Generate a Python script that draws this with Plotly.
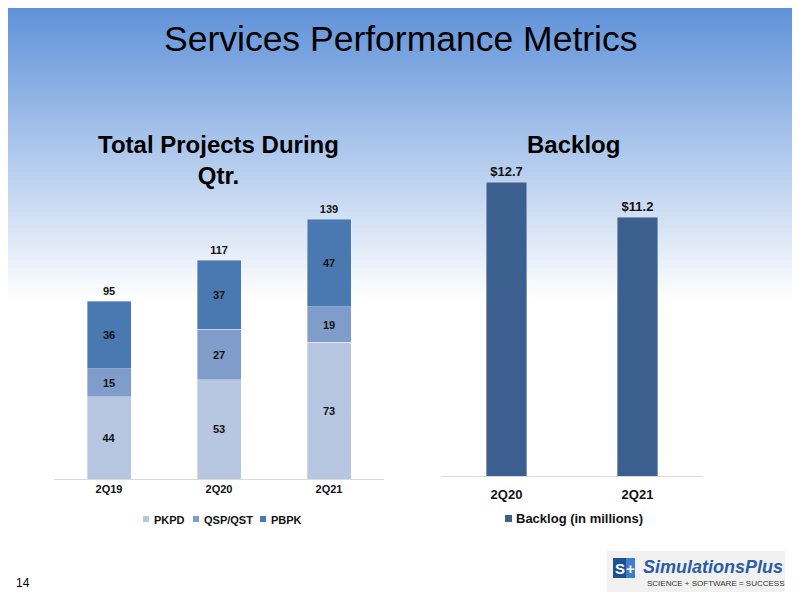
import plotly.graph_objects as go

# ---- data ----
quarters = ["2Q19", "2Q20", "2Q21"]
series_names = ["PKPD", "QSP/QST", "PBPK"]
pkpd = [44, 53, 73]
qsp_qst = [15, 27, 19]
pbpk = [36, 37, 47]
totals = [95, 117, 139]

backlog_quarters = ["2Q20", "2Q21"]
backlog_name = "Backlog (in millions)"
backlog_values = [12.7, 11.2]
backlog_labels = ["$12.7", "$11.2"]

W, H = 800, 599
# the page places the figure 8px from the top-left corner; compensate
OX, OY = 8, 8
def px(x):
    return (x - OX) / W
def py(y):
    return 1 - (y - OY) / H

C_PKPD = "#b7c6e1"
C_QSP = "#7f9cca"
C_PBPK = "#4a78b1"
C_BACK = "#3b5f8f"
TXT = "#111111"
FAM = "Liberation Sans, Arial, sans-serif"

lab_font = dict(family=FAM, size=11, color=TXT, weight="bold")

fig = go.Figure()
stack_values = [pkpd, qsp_qst, pbpk]
stack_colors = [C_PKPD, C_QSP, C_PBPK]
for name, vals, col in zip(series_names, stack_values, stack_colors):
    fig.add_trace(go.Bar(x=quarters, y=vals, name=name, marker_color=col,
                         marker_line=dict(width=0.6, color="rgba(255,255,255,0.6)"),
                         text=vals, textposition="inside", insidetextanchor="middle",
                         textfont=lab_font, width=0.4, xaxis="x", yaxis="y",
                         showlegend=False, hoverinfo="skip"))
fig.add_trace(go.Scatter(x=quarters, y=totals, mode="markers+text", text=totals,
                         marker=dict(size=4, color="rgba(0,0,0,0)"),
                         textposition="top center", textfont=lab_font,
                         showlegend=False, xaxis="x", yaxis="y", cliponaxis=False,
                         hoverinfo="skip"))

fig.add_trace(go.Bar(x=backlog_quarters, y=backlog_values, name=backlog_name,
                     marker_color=C_BACK,
                     marker_line=dict(width=0.6, color="rgba(255,255,255,0.6)"),
                     text=backlog_labels, textposition="outside",
                     textfont=dict(family=FAM, size=13, color=TXT, weight="bold"),
                     width=0.31, xaxis="x2", yaxis="y2", showlegend=False,
                     cliponaxis=False, hoverinfo="skip"))

# gradient background bands
shapes = []
top = (0x5B, 0x8F, 0xD8)
n = 75
gh = 300
for i in range(n):
    t = (i + 0.5) / n
    c = tuple(int(round(a + (255 - a) * t)) for a in top)
    shapes.append(dict(type="rect", xref="paper", yref="paper", x0=0, x1=1,
                       y0=py(gh * (i + 1) / n + 0.6), y1=min(1, py(gh * i / n)),
                       fillcolor="rgb(%d,%d,%d)" % c, line=dict(width=0), layer="below"))

annotations = []

# legend keys (left chart)
leg_sq_x = [143, 193, 260]
for name, col, sx in zip(series_names, stack_colors, leg_sq_x):
    shapes.append(dict(type="rect", xref="paper", yref="paper", x0=px(sx), x1=px(sx + 6),
                       y0=py(522), y1=py(516), fillcolor=col, line=dict(width=0)))
    annotations.append(dict(text=name, x=px(sx + 9), y=py(519.5), xref="paper", yref="paper",
                            showarrow=False, xanchor="left", yanchor="middle",
                            font=dict(family=FAM, size=11, color=TXT, weight="bold")))
# legend key (right chart)
shapes.append(dict(type="rect", xref="paper", yref="paper", x0=px(505), x1=px(512),
                   y0=py(522), y1=py(515), fillcolor=C_BACK, line=dict(width=0)))
annotations.append(dict(text=backlog_name, x=px(514), y=py(518.5), xref="paper", yref="paper",
                        showarrow=False, xanchor="left", yanchor="middle",
                        font=dict(family=FAM, size=13, color=TXT, weight="bold")))

# logo elements
shapes.append(dict(type="rect", xref="paper", yref="paper", x0=px(607), x1=px(785),
                   y0=py(592), y1=py(551), fillcolor="#f1f1f1", line=dict(width=0)))
shapes.append(dict(type="rect", xref="paper", yref="paper", x0=px(613), x1=px(626),
                   y0=py(578), y1=py(558), fillcolor="#1f4f93", line=dict(width=0)))
shapes.append(dict(type="rect", xref="paper", yref="paper", x0=px(626), x1=px(635),
                   y0=py(578), y1=py(558), fillcolor="#3f7fc8", line=dict(width=0)))

annotations += [
    dict(text="Services Performance Metrics", x=px(400), y=py(39), xref="paper", yref="paper",
         showarrow=False, xanchor="center", yanchor="middle",
         font=dict(family=FAM, size=35.5, color="#000000")),
    dict(text="<b>Total Projects During<br>Qtr.</b>", x=px(218), y=py(160), xref="paper",
         yref="paper", showarrow=False, xanchor="center", yanchor="middle",
         font=dict(family=FAM, size=24, color="#000000")),
    dict(text="<b>Backlog</b>", x=px(573), y=py(145), xref="paper", yref="paper",
         showarrow=False, xanchor="center", yanchor="middle",
         font=dict(family=FAM, size=24, color="#000000")),
    dict(text="14", x=px(14), y=py(583), xref="paper", yref="paper", showarrow=False,
         xanchor="left", yanchor="middle",
         font=dict(family=FAM, size=12, color="#000000")),
    dict(text="<b>S</b>", x=px(619.5), y=py(568), xref="paper", yref="paper", showarrow=False,
         xanchor="center", yanchor="middle",
         font=dict(family=FAM, size=15, color="#ffffff")),
    dict(text="<b>+</b>", x=px(630.5), y=py(568), xref="paper", yref="paper", showarrow=False,
         xanchor="center", yanchor="middle",
         font=dict(family=FAM, size=15, color="#ffffff")),
    dict(text="<b><i>SimulationsPlus</i></b>", x=px(641), y=py(567), xref="paper", yref="paper",
         showarrow=False, xanchor="left", yanchor="middle",
         font=dict(family=FAM, size=18, color="#2b5ca4")),
    dict(text="SCIENCE + SOFTWARE = SUCCESS", x=px(645), y=py(583), xref="paper", yref="paper",
         showarrow=False, xanchor="left", yanchor="middle",
         font=dict(family=FAM, size=8, color="#333333")),
]

fig.update_layout(
    width=W, height=H, margin=dict(l=0, r=0, t=0, b=0),
    paper_bgcolor="#ffffff", plot_bgcolor="rgba(0,0,0,0)",
    barmode="stack",
    shapes=shapes, annotations=annotations,
    xaxis=dict(domain=[px(54), px(384)], showline=True, linecolor="#d9d9d9", linewidth=1,
               showgrid=False, zeroline=False, ticks="", fixedrange=True,
               tickfont=dict(family=FAM, size=11, color=TXT, weight="bold"), anchor="y"),
    yaxis=dict(domain=[py(479), py(479 - 160 * 1.87)], range=[0, 160], visible=False,
               showgrid=False, zeroline=False, anchor="x"),
    xaxis2=dict(domain=[px(441), px(703)], showline=True, linecolor="#d9d9d9", linewidth=1,
                showgrid=False, zeroline=False, ticks="", fixedrange=True,
                ticklabelstandoff=6,
                tickfont=dict(family=FAM, size=13, color=TXT, weight="bold"), anchor="y2"),
    yaxis2=dict(domain=[py(476), py(476 - 14 * 23.12)], range=[0, 14], visible=False,
                showgrid=False, zeroline=False, anchor="x2"),
    showlegend=False,
)

fig.write_html("out.html")
